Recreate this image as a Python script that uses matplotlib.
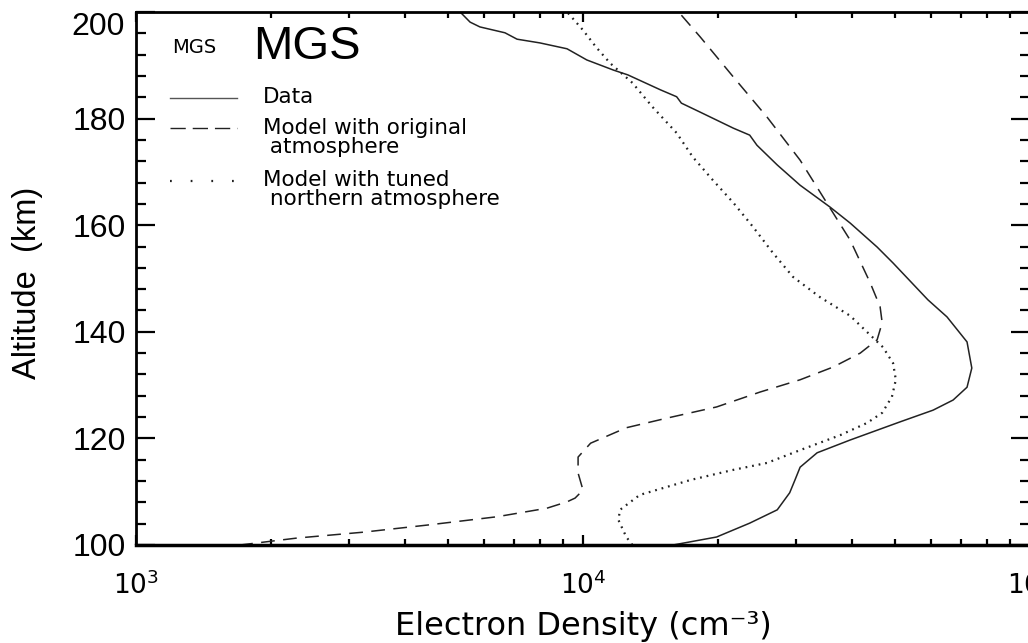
import matplotlib
matplotlib.use('Agg')
import matplotlib.pyplot as plt
from matplotlib.ticker import MultipleLocator, LogLocator, FuncFormatter, NullFormatter

plt.rcParams['mathtext.fontset'] = 'custom'
plt.rcParams['mathtext.rm'] = 'Liberation Sans'
plt.rcParams['mathtext.it'] = 'Liberation Sans:italic'

# Data profile (altitude km, electron density cm^-3)
data_alt = [200.0, 198.1, 197.2, 196.1, 194.9, 194.2, 193.1, 191.0, 189.1, 188.2,
            185.4, 184.1, 182.9, 181.2, 178.2, 176.9, 175.0, 171.3, 167.5, 163.4,
            160.4, 155.9, 152.9, 146.0, 142.8, 138.1, 133.2, 129.6, 127.2, 125.3,
            123.1, 119.7, 117.3, 114.6, 112.2, 109.8, 106.6, 104.1, 101.5, 100.0]
data_ne = [5.31e3, 5.59e3, 5.88e3, 6.69e3, 7.12e3, 8.01e3, 9.21e3, 1.02e4, 1.17e4, 1.26e4,
           1.49e4, 1.62e4, 1.66e4, 1.83e4, 2.17e4, 2.36e4, 2.45e4, 2.72e4, 3.06e4, 3.57e4,
           3.96e4, 4.55e4, 4.94e4, 5.91e4, 6.52e4, 7.23e4, 7.41e4, 7.23e4, 6.73e4, 6.07e4,
           5.12e4, 3.96e4, 3.34e4, 3.06e4, 2.98e4, 2.90e4, 2.72e4, 2.36e4, 1.99e4, 1.59e4]

# Model with original atmosphere
orig_alt = [199.4, 195.3, 187.8, 180.3, 172.2, 164.2, 157.2, 149.2, 144.7, 141.7,
            138.5, 136.0, 133.4, 131.0, 128.7, 125.9, 123.8, 122.0, 119.1, 116.5,
            113.5, 110.3, 108.8, 108.1, 106.9, 105.3, 103.8, 102.4, 101.3, 100.0]
orig_ne = [1.66e4, 1.83e4, 2.17e4, 2.58e4, 3.06e4, 3.51e4, 3.96e4, 4.39e4, 4.62e4, 4.67e4,
           4.55e4, 4.17e4, 3.63e4, 3.06e4, 2.49e4, 1.99e4, 1.54e4, 1.25e4, 1.04e4, 9.75e3,
           9.75e3, 1.00e4, 9.6e3, 9.21e3, 8.30e3, 6.42e3, 4.55e3, 3.22e3, 2.29e3, 1.71e3]

# Model with tuned northern atmosphere
tuned_alt = [199.8, 196.6, 193.4, 190.4, 186.7, 182.2, 177.3, 172.8, 168.5, 164.2,
             159.7, 154.8, 150.3, 146.5, 143.0, 139.8, 137.1, 134.1, 131.0, 127.8,
             124.8, 122.9, 120.6, 117.8, 115.4, 114.1, 112.2, 109.4, 106.6, 104.7,
             101.5, 100.0]
tuned_ne = [9.26e3, 1.00e4, 1.07e4, 1.15e4, 1.29e4, 1.43e4, 1.62e4, 1.76e4, 1.95e4, 2.17e4,
            2.40e4, 2.66e4, 2.95e4, 3.39e4, 3.96e4, 4.34e4, 4.69e4, 4.94e4, 5.01e4, 4.91e4,
            4.67e4, 4.32e4, 3.76e4, 3.06e4, 2.58e4, 2.17e4, 1.74e4, 1.34e4, 1.21e4, 1.20e4,
            1.25e4, 1.29e4]

LINE = '#222222'
LEG_FONT = 'DejaVu Sans'

fig = plt.figure(figsize=(10.28, 6.43), dpi=100)
# right edge of the axes sits just past the figure edge, as in the cropped original
ax = fig.add_axes([136 / 1028, 98 / 643, 894 / 1028, 533 / 643])

ax.plot(data_ne, data_alt, '-', color=LINE, lw=1.1)
ax.plot(orig_ne, orig_alt, color=LINE, lw=1.1, dashes=(9, 5.5))
ax.plot(tuned_ne, tuned_alt, color=LINE, lw=1.6, dashes=(0.8, 2.2))

ax.set_xscale('log')
ax.set_xlim(1e3, 1e5)
ax.set_ylim(100, 200)

for s in ax.spines.values():
    s.set_linewidth(2.0)
ax.spines['bottom'].set_linewidth(2.5)

ax.yaxis.set_major_locator(MultipleLocator(20))
ax.yaxis.set_minor_locator(MultipleLocator(4))
ax.xaxis.set_minor_locator(LogLocator(base=10, subs=range(2, 10)))
ax.xaxis.set_minor_formatter(NullFormatter())
ax.yaxis.set_major_formatter(FuncFormatter(lambda v, p: '' if v >= 200 else f'{v:.0f}'))

ax.tick_params(axis='both', which='both', direction='in', top=True, right=True,
               width=1.6, color='black')
ax.tick_params(axis='x', which='major', length=7.5, pad=19, labelsize=19)
ax.tick_params(axis='x', which='minor', length=4.5)
ax.tick_params(axis='y', which='major', length=14, pad=7, labelsize=23,
               labelfontfamily='Liberation Sans')
ax.tick_params(axis='y', which='minor', length=7)

# the top label sits below its tick in the original
ax.text(-0.0125, 200, '200', ha='right', va='top', fontsize=23,
        family='Liberation Sans', transform=ax.get_yaxis_transform())

ax.set_xlabel('Electron Density (cm⁻³)', fontsize=23, family=LEG_FONT, labelpad=8)
ax.set_ylabel('Altitude  (km)', fontsize=23.5, family='Liberation Sans')
ax.yaxis.set_label_coords(-0.104, 0.4916)

# legend, drawn IDL style
ax.text(0.040, 0.934, 'MGS', fontsize=14, family=LEG_FONT, ha='left', va='center',
        transform=ax.transAxes)
ax.text(0.131, 0.934, 'MGS', fontsize=34, family='Liberation Sans', ha='left', va='center',
        transform=ax.transAxes)

lx = [0.038, 0.113]
ax.plot(lx, [0.839, 0.839], '-', color='#555555', lw=1.0, transform=ax.transAxes)
ax.plot(lx, [0.782, 0.782], color=LINE, lw=1.0, dashes=(11, 5), transform=ax.transAxes)
ax.plot(lx, [0.683, 0.683], color=LINE, lw=1.6, dashes=(0.8, 8.5), transform=ax.transAxes)

tx = 0.1421
leg_kw = dict(fontsize=15.5, family=LEG_FONT, ha='left', va='center', transform=ax.transAxes)
ax.text(tx, 0.8405, 'Data', **leg_kw)
ax.text(tx, 0.7824, 'Model with original', **leg_kw)
ax.text(tx, 0.7467, ' atmosphere', **leg_kw)
ax.text(tx, 0.6848, 'Model with tuned', **leg_kw)
ax.text(tx, 0.6492, ' northern atmosphere', **leg_kw)

fig.savefig('out.png', dpi=100)
